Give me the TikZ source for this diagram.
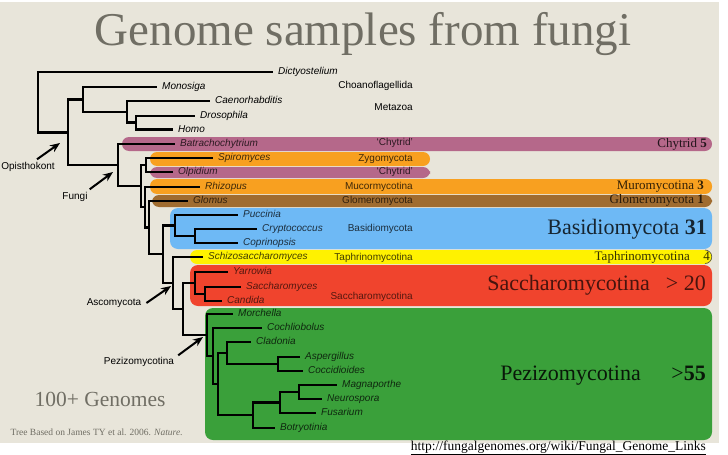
\documentclass[tikz,border=0pt]{standalone}
\usepackage{fontspec}
\setmainfont{Liberation Sans}
\newfontfamily\hoefler{Liberation Serif}
\usetikzlibrary{arrows.meta, positioning}
\definecolor{paper}{RGB}{232,229,218}
\definecolor{title-gray}{RGB}{112,110,100}
\definecolor{chy-mauve}{RGB}{181,104,138}
\definecolor{zyg-orange}{RGB}{248,160,32}
\definecolor{glo-brown}{RGB}{160,108,48}
\definecolor{bas-blue}{RGB}{110,185,245}
\definecolor{tap-yellow}{RGB}{255,242,0}
\definecolor{sac-red}{RGB}{240,68,45}
\definecolor{pez-green}{RGB}{58,160,58}

\begin{document}
\begin{tikzpicture}[
  x=1pt, y=-1pt,
  taxon/.style={anchor=west, inner xsep=5pt, inner ysep=0pt, text height=7pt, text depth=2pt,
                font=\fontsize{10}{11}\selectfont\itshape},
  clade/.style={anchor=east, inner sep=0pt, text height=7pt, text depth=2pt,
                font=\fontsize{10}{11}\selectfont},
  group/.style={anchor=east, inner sep=0pt, text height=9pt, text depth=2pt,
                font=\hoefler\fontsize{13}{14}\selectfont},
  biggroup/.style={anchor=east, inner sep=0pt, text height=15pt, text depth=4pt,
                font=\hoefler\fontsize{22}{24}\selectfont},
  band/.style={rounded corners=7pt},
  block/.style={rounded corners=8pt},
  branch/.style={line width=2.3pt},
  pointer/.style={-{Stealth[length=10pt,width=8pt]}, line width=2pt},
  tag/.style={inner sep=1pt, text height=7pt, text depth=2pt, font=\fontsize{10}{11}\selectfont}
]
  \fill[white] (0,0) rectangle (728,455);
  \fill[paper] (0,2) rectangle (719,443);
  \useasboundingbox (0,0) rectangle (728,455);

  \node[font=\hoefler\fontsize{47}{50}\selectfont, text=title-gray, anchor=base] (title) at (363,45)
    {Genome samples from fungi};

  \fill[band, chy-mauve]  (122,137) rectangle (712,151);
  \fill[band, zyg-orange] (150,152) rectangle (430,166);
  \fill[band, chy-mauve]  (150,167) rectangle (430,178);
  \fill[band, zyg-orange] (150,179) rectangle (712,194);
  \fill[band, glo-brown]  (152,195) rectangle (712,207);
  \fill[block, bas-blue]  (170,208) rectangle (712,249);
  \fill[band, tap-yellow] (190,250) rectangle (712,264);
  \draw[line width=0.6pt, black!70] (705,263.5) arc[start angle=90, end angle=-90, radius=6.75];
  \fill[block, sac-red]   (190,265) rectangle (712,306);
  \fill[block, pez-green] (205,308) rectangle (712,440);

  \node[taxon] (dicty)  at (273,72)  {Dictyostelium};
  \node[taxon] (mono)   at (157,87)  {Monosiga};
  \node[taxon] (caeno)  at (210,101) {Caenorhabditis};
  \node[taxon] (droso)  at (195,116) {Drosophila};
  \node[taxon] (homo)   at (173,129.5) {Homo};
  \node[taxon, text=chy-mauve!25!black]  (batra)  at (175,144) {Batrachochytrium};
  \node[taxon, text=zyg-orange!25!black] (spiro)  at (213,158) {Spiromyces};
  \node[taxon, text=chy-mauve!25!black]  (olpi)   at (173,172) {Olpidium};
  \node[taxon, text=zyg-orange!25!black] (rhizo)  at (200,187) {Rhizopus};
  \node[taxon, text=glo-brown!30!black]  (glomus) at (188,201) {Glomus};
  \node[taxon, text=bas-blue!25!black]   (pucci)  at (238,215) {Puccinia};
  \node[taxon, text=bas-blue!25!black]   (crypto) at (257,229) {Cryptococcus};
  \node[taxon, text=bas-blue!25!black]   (copri)  at (238,243) {Coprinopsis};
  \node[taxon, text=tap-yellow!25!black] (schizo) at (203,257) {Schizosaccharomyces};
  \node[taxon, text=sac-red!35!black]    (yarro)  at (228,272) {Yarrowia};
  \node[taxon, text=sac-red!35!black]    (saccha) at (241,287) {Saccharomyces};
  \node[taxon, text=sac-red!35!black]    (candi)  at (222,301) {Candida};
  \node[taxon, text=pez-green!25!black]  (morch)  at (233,314) {Morchella};
  \node[taxon, text=pez-green!25!black]  (cochl)  at (262,328) {Cochliobolus};
  \node[taxon, text=pez-green!25!black]  (clado)  at (251,342) {Cladonia};
  \node[taxon, text=pez-green!25!black]  (asper)  at (300,357) {Aspergillus};
  \node[taxon, text=pez-green!25!black]  (cocci)  at (303,371) {Coccidioides};
  \node[taxon, text=pez-green!25!black]  (magna)  at (337,385) {Magnaporthe};
  \node[taxon, text=pez-green!25!black]  (neuro)  at (322,399) {Neurospora};
  \node[taxon, text=pez-green!25!black]  (fusar)  at (316,413) {Fusarium};
  \node[taxon, text=pez-green!25!black]  (botry)  at (275,428) {Botryotinia};

  \coordinate (root) at (38,102);
  \coordinate (opis) at (68,132.5);
  \coordinate (holo) at (83,99.5);
  \coordinate (meta) at (127,112);
  \coordinate (bila) at (136,122.5);
  \coordinate (fungi) at (118,165);
  \coordinate (n1) at (141,186);
  \coordinate (n2) at (146,165);
  \coordinate (n3) at (145,207);
  \coordinate (n4) at (149,227.5);
  \coordinate (dika) at (163,254);
  \coordinate (basi) at (175,225.5);
  \coordinate (agar) at (195,236);
  \coordinate (asco) at (173,283);
  \coordinate (sacp) at (183,309);
  \coordinate (sacc) at (195,283);
  \coordinate (sac2) at (205,294);
  \coordinate (pezi) at (207,335);
  \coordinate (p2) at (213,356);
  \coordinate (p3) at (218,384);
  \coordinate (p4) at (227,353);
  \coordinate (p6) at (278,364);
  \coordinate (p5) at (253,415);
  \coordinate (p7) at (280,402.5);
  \coordinate (p8) at (299,392);

  \draw[branch] (root) |- (dicty);  \draw[branch] (root) |- (opis);
  \draw[branch] (opis) |- (holo);   \draw[branch] (opis) |- (fungi);
  \draw[branch] (holo) |- (mono);   \draw[branch] (holo) |- (meta);
  \draw[branch] (meta) |- (caeno);  \draw[branch] (meta) |- (bila);
  \draw[branch] (bila) |- (droso);  \draw[branch] (bila) |- (homo);
  \draw[branch] (fungi) |- (batra); \draw[branch] (fungi) |- (n1);
  \draw[branch] (n1) |- (n2);       \draw[branch] (n1) |- (n3);
  \draw[branch] (n2) |- (spiro);    \draw[branch] (n2) |- (olpi);
  \draw[branch] (n3) |- (rhizo);    \draw[branch] (n3) |- (n4);
  \draw[branch] (n4) |- (glomus);   \draw[branch] (n4) |- (dika);
  \draw[branch] (dika) |- (basi);   \draw[branch] (dika) |- (asco);
  \draw[branch] (basi) |- (pucci);  \draw[branch] (basi) |- (agar);
  \draw[branch] (agar) |- (crypto); \draw[branch] (agar) |- (copri);
  \draw[branch] (asco) |- (schizo); \draw[branch] (asco) |- (sacp);
  \draw[branch] (sacp) |- (sacc);   \draw[branch] (sacp) |- (pezi);
  \draw[branch] (sacc) |- (yarro);  \draw[branch] (sacc) |- (sac2);
  \draw[branch] (sac2) |- (saccha); \draw[branch] (sac2) |- (candi);
  \draw[branch] (pezi) |- (morch);  \draw[branch] (pezi) |- (p2);
  \draw[branch] (p2) |- (cochl);    \draw[branch] (p2) |- (p3);
  \draw[branch] (p3) |- (p4);       \draw[branch] (p3) |- (p5);
  \draw[branch] (p4) |- (clado);    \draw[branch] (p4) |- (p6);
  \draw[branch] (p6) |- (asper);    \draw[branch] (p6) |- (cocci);
  \draw[branch] (p5) |- (p7);       \draw[branch] (p5) |- (botry);
  \draw[branch] (p7) |- (p8);       \draw[branch] (p7) |- (fusar);
  \draw[branch] (p8) |- (magna);    \draw[branch] (p8) |- (neuro);

  \node[clade] (choano) at (413,86)  {Choanoflagellida};
  \node[clade] (metaz)  at (413,108) {Metazoa};
  \node[clade, text=chy-mauve!25!black]  (chy1)  at (413,143) {‘Chytrid’};
  \node[clade, text=zyg-orange!25!black] (zygo)  at (413,159) {Zygomycota};
  \node[clade, text=chy-mauve!25!black]  (chy2)  at (413,172) {‘Chytrid’};
  \node[clade, text=zyg-orange!25!black] (mucor) at (413,187) {Mucormycotina};
  \node[clade, text=glo-brown!30!black]  (glom)  at (413,201) {Glomeromycota};
  \node[clade, text=bas-blue!25!black]   (basid) at (413,229) {Basidiomycota};
  \node[clade, text=tap-yellow!25!black] (taph)  at (413,257.5) {Taphrinomycotina};
  \node[clade, text=sac-red!35!black]    (saccm) at (413,297) {Saccharomycotina};

  \node[group, text=chy-mauve!20!black]  (rchy)   at (707,144) {Chytrid \textbf{5}};
  \node[group, text=zyg-orange!20!black] (rmuco)  at (704,186) {Muromycotina \textbf{3}};
  \node[group, text=glo-brown!25!black]  (rglom)  at (704,200) {Glomeromycota \textbf{1}};
  \node[biggroup, text=bas-blue!20!black] (rbasi) at (707,229) {Basidiomycota \textbf{31}};
  \node[group, text=tap-yellow!20!black] (rtaph)  at (690,257) {Taphrinomycotina};
  \node[group, text=tap-yellow!20!black] (rtaph4) at (710,257) {4};
  \node[biggroup, text=sac-red!30!black]  (rsacc)   at (650,285) {Saccharomycotina};
  \node[biggroup, text=sac-red!30!black]  (rsacc20) at (706,285) {> 20};
  \node[biggroup, text=pez-green!15!black] (rpezi)   at (641,375) {Pezizomycotina};
  \node[biggroup, text=pez-green!15!black] (rpezi55) at (706,375) {>\textbf{55}};

  \node[tag] (lopis)  at (28,167)  {Opisthokont};
  \node[tag] (lfungi) at (75,197)  {Fungi};
  \node[tag] (lasco)  at (114,303) {Ascomycota};
  \node[tag] (lpezi)  at (139,362) {Pezizomycotina};
  \coordinate (hopis)  at (60,143);
  \coordinate (hfungi) at (113,172);
  \coordinate (hasco)  at (171,286);
  \coordinate (hpezi)  at (203,337);
  \draw[pointer] ([xshift=9pt,yshift=2pt]lopis.north) -- (hopis);
  \draw[pointer] ([xshift=1pt,yshift=2pt]lfungi.north east) -- (hfungi);
  \draw[pointer] ([xshift=4pt]lasco.east) -- (hasco);
  \draw[pointer] ([xshift=3pt,yshift=1pt]lpezi.north east) -- (hpezi);

  \node[font=\hoefler\fontsize{21.5}{23}\selectfont, text=title-gray, anchor=base west] (genomes) at (31,406)
    {100+ Genomes};
  \node[font=\hoefler\fontsize{9.5}{11}\selectfont, text=title-gray, anchor=base west] (source) at (7,435)
    {Tree Based on James TY et al. 2006. \textit{Nature.}};
  \node[font=\hoefler\fontsize{13.5}{15}\selectfont, anchor=base east, inner sep=0pt] (url) at (706,450)
    {\underline{http://fungalgenomes.org/wiki/Fungal\_Genome\_Links}};
\end{tikzpicture}
\end{document}
